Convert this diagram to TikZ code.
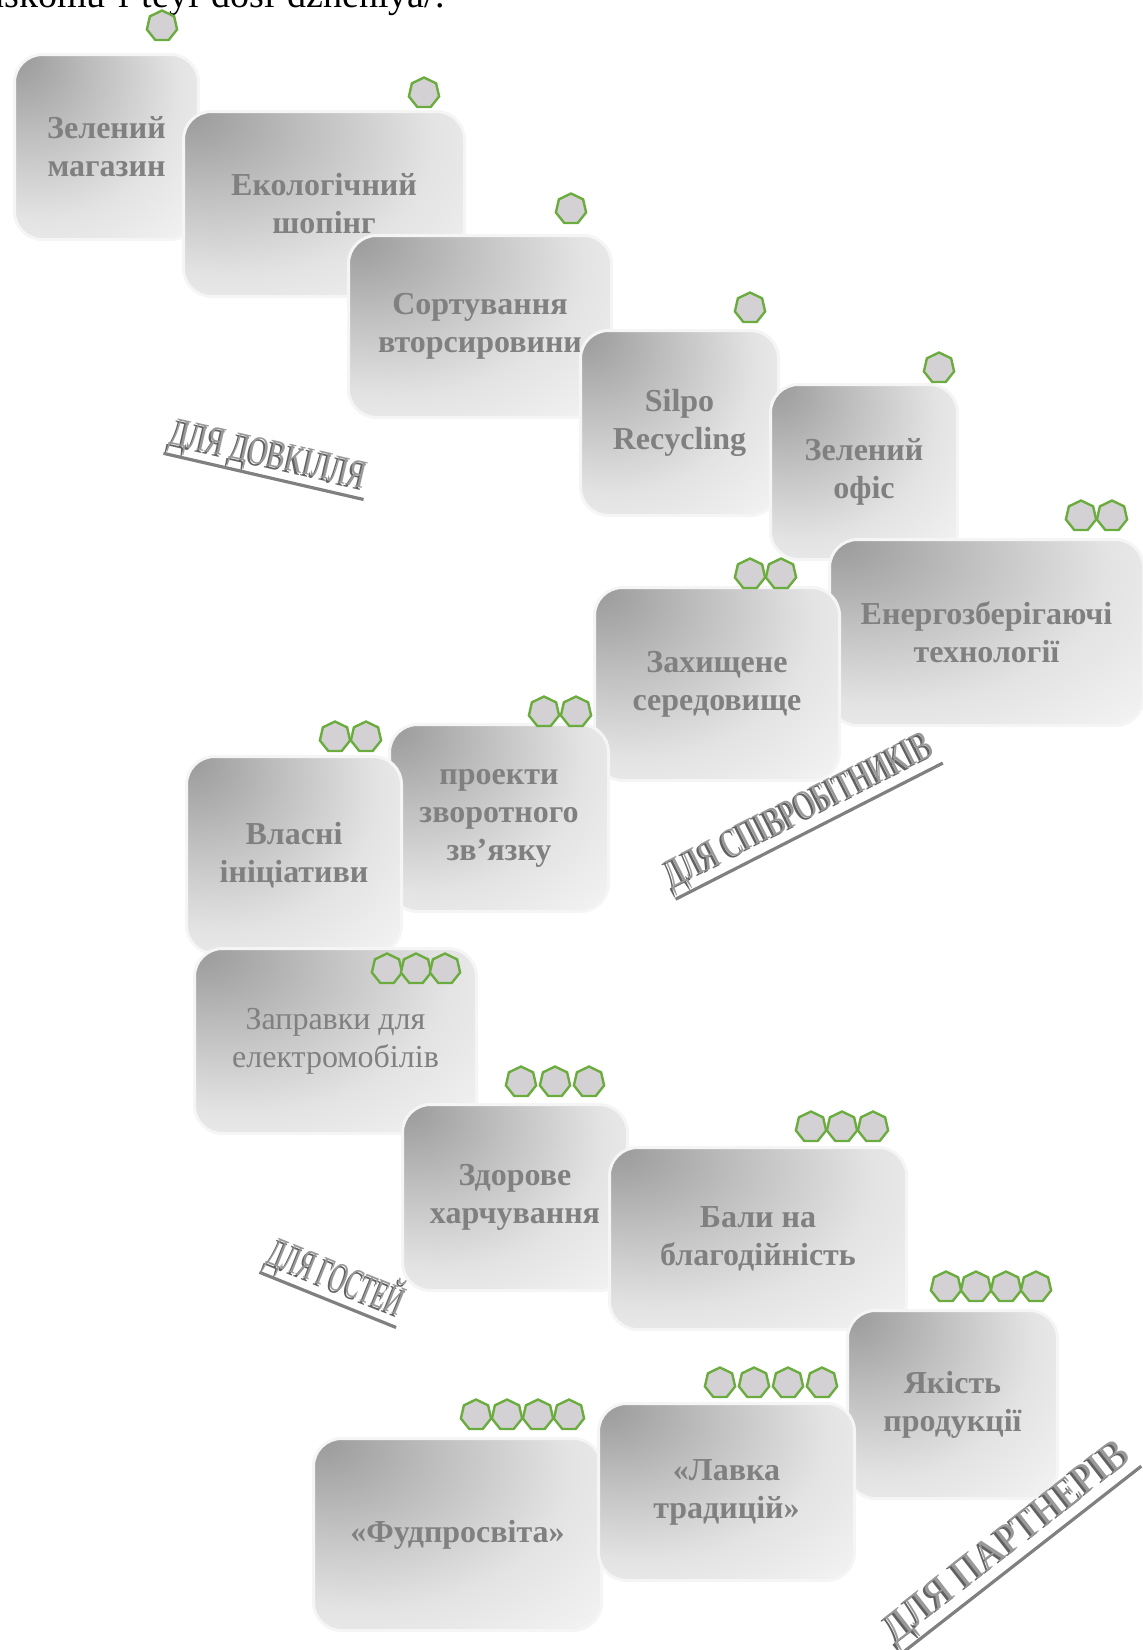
\documentclass[tikz,border=0pt]{standalone}
\usepackage{fontspec}
\setmainfont{Liberation Serif}
\newfontfamily\catfont[FakeStretch=0.68]{Liberation Serif}
\newfontfamily\catnarrowfont[FakeStretch=0.55]{Liberation Serif}
\newfontfamily\catwidefont[FakeStretch=0.92]{Liberation Serif}
\usetikzlibrary{shapes.geometric,positioning}

\definecolor{hepgreen}{RGB}{106,172,62}
\definecolor{hepfill}{RGB}{212,209,212}
\definecolor{tiletext}{RGB}{128,128,128}

\pgfdeclareradialshading{tileshade}{\pgfpoint{-25bp}{25bp}}{color(0bp)=(black!40); color(18bp)=(black!25); color(36bp)=(black!11); color(52bp)=(black!5); color(110bp)=(black!4)}

\tikzset{
	tile/.style={shade, shading=tileshade, rounded corners=14pt, draw=black!4, line width=1.5pt,
		anchor=north west, text=tiletext, align=center, inner sep=2pt,
		font=\bfseries\fontsize{16}{19}\selectfont},
	hept/.style={regular polygon, regular polygon sides=7, minimum size=15.5pt, inner sep=0pt,
		fill=hepfill, draw=hepgreen, line width=1.2pt},
	cat/.style={inner sep=1pt, text=black!40},
	catshadow/.style={inner sep=1pt, text=black!62},
	catline/.style={draw=black!50, line width=1.6pt}
}

\begin{document}
\begin{tikzpicture}[x=0.5pt,y=-0.5pt]
	\useasboundingbox (0,0) rectangle (1143,1650);
	\node[anchor=base east, inner sep=0pt, font=\fontsize{19}{21}\selectfont] (urltail) at (445,7) {askomu-i-teyi-dosi-dzheniya/.};

	% dlya dovkillya
	\node[tile, minimum width=92pt, minimum height=92.5pt] (zelmag) at (13,53) {Зелений\\магазин};
	\node[tile, minimum width=140.5pt, minimum height=92.5pt] (ekoshop) at (182,110) {Екологічний\\шопінг};
	\node[tile, minimum width=131.5pt, minimum height=91pt] (sort) at (347,234) {Сортування\\вторсировини};
	\node[tile, minimum width=99pt, minimum height=92.5pt] (silpo) at (579,329) {Silpo\\Recycling};
	\node[tile, minimum width=93.5pt, minimum height=87.5pt] (zeloff) at (769,383) {Зелений\\офіс};

	% dlya spivrobitnykiv
	\node[tile, minimum width=157pt, minimum height=93pt] (energo) at (828,538) {Енергозберігаючі\\технології};
	\node[tile, minimum width=122.5pt, minimum height=96.5pt] (zakhyst) at (593,586) {Захищене\\середовище};
	\node[tile, minimum width=109.5pt, minimum height=93.5pt] (proekty) at (388,723) {проекти\\зворотного\\зв’язку};
	\node[tile, minimum width=107.5pt, minimum height=98.5pt] (vlasni) at (185,755) {Власні\\ініціативи};

	% dlya gostey
	\node[tile, minimum width=141pt, minimum height=92.5pt, font=\fontsize{16}{19}\selectfont] (zapravky) at (193,947) {Заправки для\\електромобілів};
	\node[tile, minimum width=112.5pt, minimum height=93pt] (zdorove) at (401,1103) {Здорове\\харчування};
	\node[tile, minimum width=148.5pt, minimum height=91pt] (baly) at (608,1146) {Бали на\\благодійність};

	% dlya partneriv
	\node[tile, minimum width=105pt, minimum height=94pt] (yakist) at (846,1309) {Якість\\продукції};
	\node[tile, minimum width=144pt, minimum height=96pt] (fudpro) at (312,1437) {«Фудпросвіта»};
	\node[tile, minimum width=128pt, minimum height=88.5pt] (lavka) at (597,1402) {«Лавка\\традицій»};

	% heptagons
	\node[hept] (h-zelmag) at (162,26) {};
	\node[hept] (h-ekoshop) at (424,93) {};
	\node[hept] (h-sort) at (571,209) {};
	\node[hept] (h-silpo) at (750,308) {};
	\node[hept] (h-zeloff) at (939,368) {};
	\foreach \i in {0,1} {
		\node[hept] (h-energo-\i) at ({1081+31*\i},516) {};
		\node[hept] (h-zakhyst-\i) at ({750+31*\i},574) {};
		\node[hept] (h-proekty-\i) at ({544+32*\i},712) {};
		\node[hept] (h-vlasni-\i) at ({335+31*\i},737) {};
	}
	\foreach \i in {0,1,2} {
		\node[hept] (h-zapravky-\i) at ({387+29*\i},969) {};
		\node[hept] (h-zdorove-\i) at ({521+34*\i},1082) {};
		\node[hept] (h-baly-\i) at ({811+31*\i},1127) {};
	}
	\foreach \i in {0,...,3} {
		\node[hept] (h-yakist-\i) at ({946+30*\i},1287) {};
		\node[hept] (h-lavka-\i) at ({720+34*\i},1383) {};
		\node[hept] (h-fudpro-\i) at ({476+31*\i},1415) {};
	}

	% category labels
	\node[catshadow, rotate=-13, font=\catfont\fontsize{20}{22}\selectfont] (dovk-sh) at (266,459) {ДЛЯ ДОВКІЛЛЯ};
	\node[cat, rotate=-13, font=\catfont\fontsize{20}{22}\selectfont] (dovk) at (268,457) {ДЛЯ ДОВКІЛЛЯ};
	\draw[catline] (dovk.south west) -- (dovk.south east);

	\node[catshadow, rotate=27, font=\catfont\fontsize{20.5}{22}\selectfont] (spivr-sh) at (798,815) {ДЛЯ СПІВРОБІТНИКІВ};
	\node[cat, rotate=27, font=\catfont\fontsize{20.5}{22}\selectfont] (spivr) at (800,813) {ДЛЯ СПІВРОБІТНИКІВ};
	\draw[catline] (spivr.south west) -- (spivr.south east);

	\node[catshadow, rotate=-22, font=\catnarrowfont\fontsize{21}{24}\selectfont] (gost-sh) at (335,1279) {ДЛЯ ГОСТЕЙ};
	\node[cat, rotate=-22, font=\catnarrowfont\fontsize{21}{24}\selectfont] (gost) at (337,1277) {ДЛЯ ГОСТЕЙ};
	\draw[catline] (gost.south west) -- (gost.south east);

	\node[catshadow, rotate=38, font=\catwidefont\fontsize{21}{23}\selectfont] (partn-sh) at (1006,1546) {ДЛЯ ПАРТНЕРІВ};
	\node[cat, rotate=38, font=\catwidefont\fontsize{21}{23}\selectfont] (partn) at (1008,1544) {ДЛЯ ПАРТНЕРІВ};
	\draw[catline] (partn.south west) -- (partn.south east);
\end{tikzpicture}
\end{document}
